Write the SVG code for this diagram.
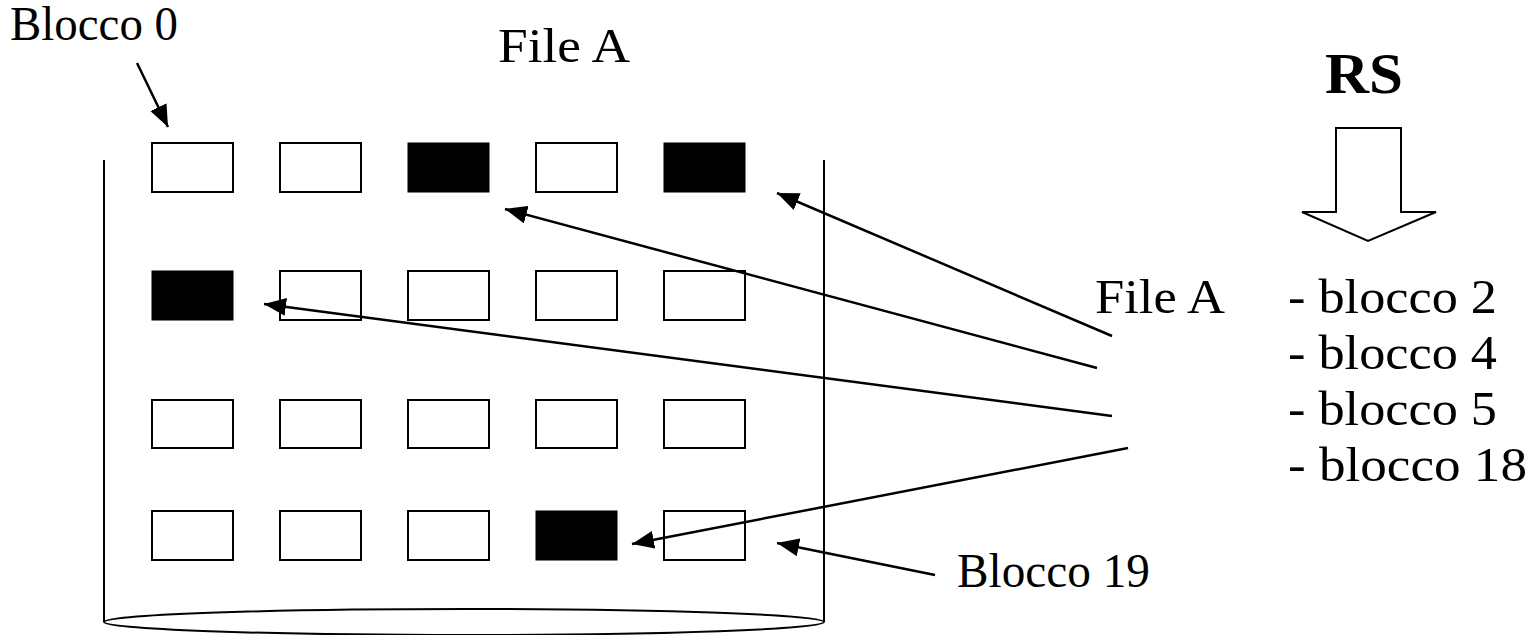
<svg xmlns="http://www.w3.org/2000/svg" width="1529" height="635" viewBox="0 0 1529 635">
<style>
text{font-family:"Liberation Serif","Times New Roman",serif;font-size:48px;fill:#000}
.b{fill:#fff;stroke:#000;stroke-width:2}
.f{fill:#000;stroke:#000;stroke-width:1}
.l{stroke:#000;stroke-width:2.5;fill:none}
.c{stroke:#000;stroke-width:2;fill:none}
</style>
<defs>
<marker id="a" viewBox="0 0 22 18" refX="22" refY="9" markerWidth="22" markerHeight="18" markerUnits="userSpaceOnUse" orient="auto">
<path d="M0,0 L22,9 L0,18 Z" fill="#000"/>
</marker>
</defs>
<g id="disk">
<line class="c" x1="104" y1="160" x2="104" y2="622"/>
<line class="c" x1="824" y1="160" x2="824" y2="622"/>
<ellipse class="c" cx="464" cy="622" rx="360" ry="13"/>
</g>
<g id="blocks">
<rect class="b" x="152" y="143" width="81" height="49"/>
<rect class="b" x="280" y="143" width="81" height="49"/>
<rect class="f" x="408" y="143" width="81" height="49"/>
<rect class="b" x="536" y="143" width="81" height="49"/>
<rect class="f" x="664" y="143" width="81" height="49"/>
<rect class="f" x="152" y="271" width="81" height="49"/>
<rect class="b" x="280" y="271" width="81" height="49"/>
<rect class="b" x="408" y="271" width="81" height="49"/>
<rect class="b" x="536" y="271" width="81" height="49"/>
<rect class="b" x="664" y="271" width="81" height="49"/>
<rect class="b" x="152" y="400" width="81" height="48"/>
<rect class="b" x="280" y="400" width="81" height="48"/>
<rect class="b" x="408" y="400" width="81" height="48"/>
<rect class="b" x="536" y="400" width="81" height="48"/>
<rect class="b" x="664" y="400" width="81" height="48"/>
<rect class="b" x="152" y="511" width="81" height="49"/>
<rect class="b" x="280" y="511" width="81" height="49"/>
<rect class="b" x="408" y="511" width="81" height="49"/>
<rect class="f" x="536" y="511" width="81" height="49"/>
<rect class="b" x="664" y="511" width="81" height="49"/>
</g>
<g id="connectors">
<line class="l" x1="137" y1="63" x2="168" y2="127" marker-end="url(#a)"/>
<line class="l" x1="1112" y1="336" x2="777" y2="193" marker-end="url(#a)"/>
<line class="l" x1="1097" y1="368" x2="505" y2="209" marker-end="url(#a)"/>
<line class="l" x1="1112" y1="416" x2="264" y2="304" marker-end="url(#a)"/>
<line class="l" x1="1128" y1="448" x2="632" y2="544" marker-end="url(#a)"/>
<line class="l" x1="935" y1="575" x2="777" y2="543" marker-end="url(#a)"/>
</g>
<g id="rs">
<text x="1325" y="93" style="font-weight:bold;font-size:58px" textLength="78" lengthAdjust="spacingAndGlyphs">RS</text>
<polygon points="1336,128 1401,128 1401,212 1436,212 1368,241 1302,212 1336,212" fill="#fff" stroke="#000" stroke-width="2"/>
</g>
<g id="labels">
<text x="10" y="40" textLength="168" lengthAdjust="spacingAndGlyphs">Blocco 0</text>
<text x="498" y="62" textLength="132" lengthAdjust="spacingAndGlyphs">File A</text>
<text x="1095" y="313" textLength="130" lengthAdjust="spacingAndGlyphs">File A</text>
<text x="1288" y="313" textLength="209" lengthAdjust="spacingAndGlyphs">- blocco 2</text>
<text x="1288" y="369" textLength="209" lengthAdjust="spacingAndGlyphs">- blocco 4</text>
<text x="1288" y="425" textLength="209" lengthAdjust="spacingAndGlyphs">- blocco 5</text>
<text x="1288" y="481" textLength="239" lengthAdjust="spacingAndGlyphs">- blocco 18</text>
<text x="957" y="587" textLength="193" lengthAdjust="spacingAndGlyphs">Blocco 19</text>
</g>
</svg>
